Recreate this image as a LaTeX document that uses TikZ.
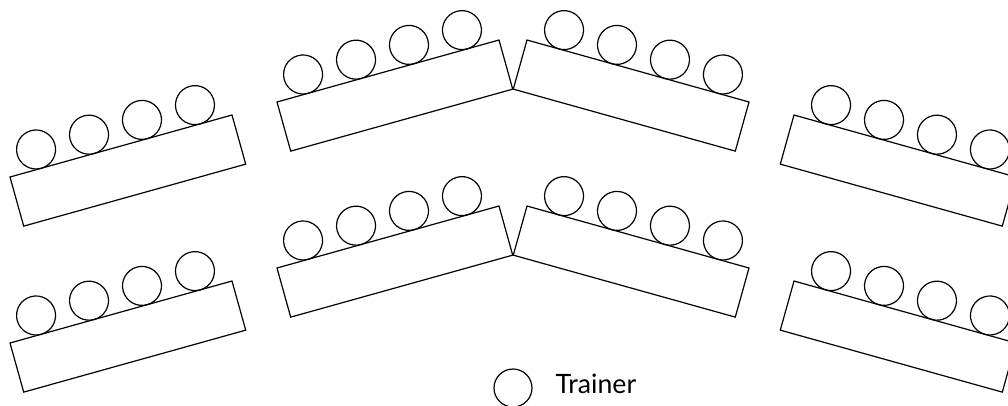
\documentclass[tikz,border=0pt]{standalone}
\usepackage{fontspec}
\setmainfont{Lato}
\usepackage{tikz}
\usetikzlibrary{positioning}

\tikzset{
    tablebox/.style={draw, fill=white},
    chair/.style={draw},
}

\begin{document}
\begin{tikzpicture}[x=0.75pt, y=0.75pt, line width=0.9pt]
        \useasboundingbox (0,0) rectangle (1008,405);

        % Tables with four chairs each, mirrored round the middle
        \foreach \flip in {1,-1}
            \foreach \tx/\ty in {10/228, 10/62, 277/303, 277/137}
            {
                \begin{scope}[shift={(513,0)}, xscale=\flip, shift={(\tx-513,\ty)}, rotate=15.6]
                    \draw[tablebox] (0,0) rectangle (230.5,-51);
                    \foreach \c in {0,...,3}
                        \draw[chair] (32.5+55*\c,19.5) circle[radius=19.5];
                \end{scope}
            }

        % Legend
        \node[draw, circle, minimum size=28.5pt, inner sep=0pt] (trainer) at (513,17) {};
        \node[anchor=base west, inner sep=0pt, font=\fontsize{20}{24}\selectfont] (trainerlabel) at (555,12) {Trainer};
    \end{tikzpicture}
\end{document}
